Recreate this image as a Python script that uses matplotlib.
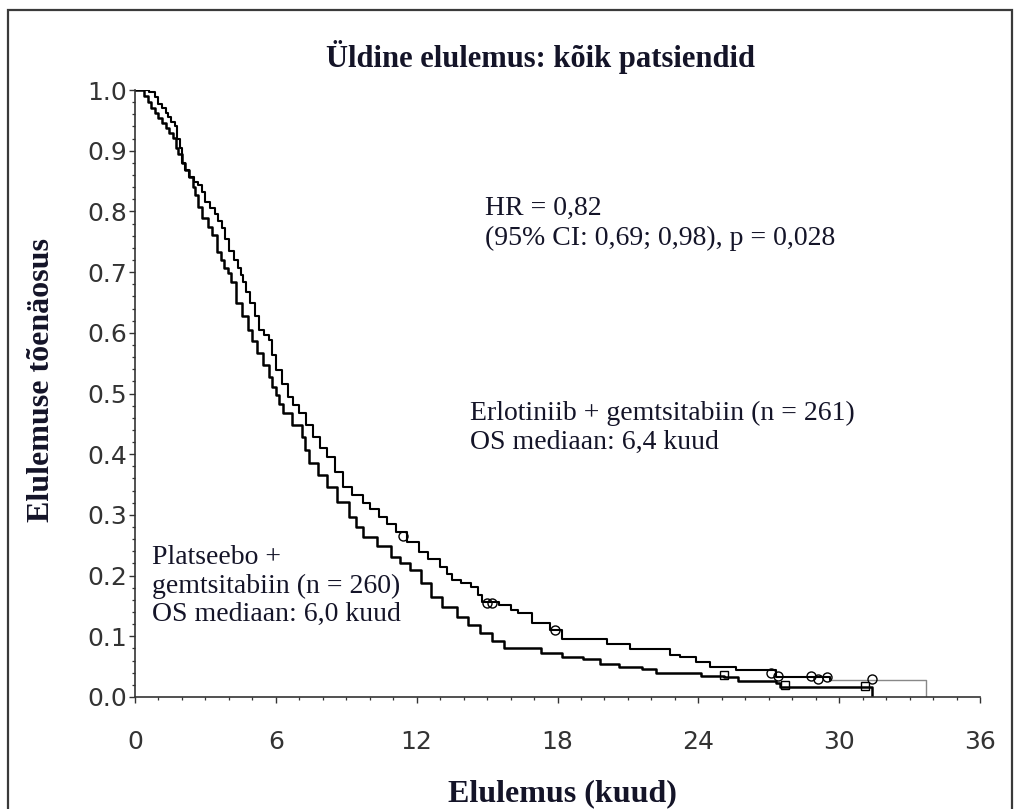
import matplotlib.pyplot as plt
from matplotlib.patches import Rectangle
from matplotlib.ticker import MultipleLocator

# Kaplan-Meier steps (months, survival)
erl_t = [0, 0.6, 0.85, 1.0, 1.15, 1.3, 1.4, 1.55, 1.7, 1.8, 1.9, 2.0, 2.15, 2.3, 2.5,
         2.7, 2.85, 3.0, 3.2, 3.4, 3.55, 3.7, 3.85, 4.0, 4.2, 4.4, 4.5, 4.6, 4.75, 4.9,
         5.1, 5.3, 5.5, 5.7, 5.85, 6.0, 6.25, 6.5, 6.75, 7.0, 7.3, 7.6, 7.9, 8.2, 8.5,
         8.85, 9.25, 9.7, 10.0, 10.4, 10.75, 11.1, 11.6, 12.1, 12.5, 13.0, 13.3, 13.5,
         13.9, 14.3, 14.6, 14.8, 15.5, 16.0, 16.3, 16.9, 17.7, 18.2, 20.1, 21.1, 22.8,
         23.2, 23.9, 24.5, 25.6, 27.3, 29.6, 33.7]
erl_s = [1.0, 0.996, 0.988, 0.977, 0.97, 0.962, 0.955, 0.948, 0.94, 0.92, 0.905, 0.88,
         0.868, 0.856, 0.848, 0.843, 0.832, 0.815, 0.805, 0.795, 0.784, 0.773, 0.755,
         0.735, 0.72, 0.707, 0.695, 0.684, 0.667, 0.649, 0.628, 0.605, 0.596, 0.588,
         0.563, 0.539, 0.516, 0.494, 0.481, 0.468, 0.448, 0.428, 0.411, 0.395, 0.370,
         0.346, 0.333, 0.320, 0.309, 0.297, 0.285, 0.272, 0.255, 0.239, 0.228, 0.214,
         0.202, 0.193, 0.187, 0.181, 0.168, 0.157, 0.152, 0.144, 0.138, 0.122, 0.110,
         0.096, 0.087, 0.079, 0.069, 0.066, 0.058, 0.049, 0.044, 0.033, 0.028, 0.0]

pla_t = [0, 0.4, 0.55, 0.7, 0.85, 1.0, 1.15, 1.3, 1.45, 1.6, 1.75, 1.85, 2.0, 2.15, 2.3,
         2.45, 2.55, 2.7, 2.85, 3.1, 3.3, 3.5, 3.65, 3.8, 3.95, 4.1, 4.3, 4.55, 4.8, 5.0,
         5.2, 5.45, 5.7, 5.85, 6.0, 6.15, 6.3, 6.7, 7.1, 7.25, 7.4, 7.8, 8.2, 8.6, 9.1,
         9.4, 9.7, 10.3, 10.9, 11.3, 11.7, 12.2, 12.6, 13.1, 13.7, 14.2, 14.7, 15.2, 15.7,
         17.3, 18.2, 19.1, 19.8, 20.6, 21.6, 22.2, 24.1, 25.1, 25.7, 27.3, 27.5, 31.4]
pla_s = [1.0, 0.99, 0.98, 0.97, 0.962, 0.954, 0.945, 0.937, 0.929, 0.921, 0.905, 0.895,
         0.88, 0.868, 0.856, 0.84, 0.827, 0.808, 0.789, 0.775, 0.761, 0.733, 0.72, 0.707,
         0.698, 0.684, 0.649, 0.627, 0.605, 0.586, 0.567, 0.547, 0.527, 0.51, 0.497,
         0.482, 0.468, 0.448, 0.428, 0.407, 0.386, 0.366, 0.346, 0.322, 0.297, 0.280,
         0.264, 0.248, 0.231, 0.220, 0.209, 0.187, 0.165, 0.148, 0.132, 0.118, 0.105,
         0.093, 0.081, 0.072, 0.066, 0.062, 0.054, 0.049, 0.046, 0.040, 0.035, 0.033,
         0.026, 0.023, 0.017, 0.0]

# censored observations
erl_cens_t = [11.4, 15.0, 15.2, 17.9, 27.1, 27.4, 28.8, 29.1, 29.5, 31.4]
erl_cens_s = [0.265, 0.155, 0.155, 0.110, 0.040, 0.035, 0.035, 0.030, 0.033, 0.030]
pla_cens_t = [25.1, 27.7, 31.1]
pla_cens_s = [0.036, 0.020, 0.018]

x_ticks = [0, 6, 12, 18, 24, 30, 36]
y_ticks = [0.0, 0.1, 0.2, 0.3, 0.4, 0.5, 0.6, 0.7, 0.8, 0.9, 1.0]

W, H = 1014, 809
fig = plt.figure(figsize=(W / 100, H / 100), dpi=100)
ax = fig.add_axes([135 / W, 1 - 697 / H, (980 - 135) / W, (697 - 90) / H])

serif = 'Liberation Serif'
sans = 'DejaVu Sans'
txt_col = '#141428'

# erlotinib: solid black until last event, thin gray tail
cut = len(erl_t) - 2
ax.step(erl_t[:cut + 1], erl_s[:cut + 1], where='post', color='black', lw=1.5)
ax.step(erl_t[cut:], erl_s[cut:], where='post', color='#888888', lw=1.0)
ax.step(pla_t, pla_s, where='post', color='black', lw=1.8)

ax.plot(erl_cens_t, erl_cens_s, 'o', ms=6.5, mfc='none', mec='black', mew=1.0)
ax.plot(pla_cens_t, pla_cens_s, 's', ms=6, mfc='none', mec='black', mew=1.0)

ax.set_xlim(0, 36)
ax.set_ylim(0, 1.0)
ax.set_xticks(x_ticks)
ax.set_yticks(y_ticks)
ax.set_yticklabels([f'{v:.1f}' for v in y_ticks])
ax.xaxis.set_minor_locator(MultipleLocator(1))
ax.yaxis.set_minor_locator(MultipleLocator(0.02))
for s in ['top', 'right']:
    ax.spines[s].set_visible(False)
for s in ['left', 'bottom']:
    ax.spines[s].set_color('#333333')
    ax.spines[s].set_linewidth(1.2)
ax.tick_params(axis='both', which='major', length=4.5, width=1.0, color='#333333',
               labelcolor='#333333', labelsize=18)
ax.tick_params(axis='both', which='minor', length=2.2, width=0.9, color='#333333')
ax.tick_params(axis='x', which='major', pad=19)
ax.tick_params(axis='y', which='major', pad=1)
for lab in ax.get_xticklabels() + ax.get_yticklabels():
    lab.set_fontfamily(sans)


def ftext(x, y, s, **kw):
    fig.text(x / W, 1 - y / H, s, family=serif, color=txt_col, **kw)


ftext(541, 57, 'Üldine elulemus: kõik patsiendid', fontsize=22, weight='bold',
      ha='center', va='center')
ftext(562, 794, 'Elulemus (kuud)', fontsize=23, weight='bold', ha='center', va='center')
fig.text(42 / W, 1 - 380 / H, 'Elulemuse tõenäosus', family=serif, color=txt_col,
         fontsize=23, weight='bold', rotation=90, ha='center', va='center')

ftext(485, 208, 'HR = 0,82', fontsize=20, va='center')
ftext(485, 238, '(95% CI: 0,69; 0,98), p = 0,028', fontsize=20, va='center')
ftext(470, 413, 'Erlotiniib + gemtsitabiin (n = 261)', fontsize=20, va='center')
ftext(470, 442, 'OS mediaan: 6,4 kuud', fontsize=20, va='center')
ftext(152, 557, 'Platseebo +', fontsize=20, va='center')
ftext(152, 586, 'gemtsitabiin (n = 260)', fontsize=20, va='center')
ftext(152, 614, 'OS mediaan: 6,0 kuud', fontsize=20, va='center')

# outer frame
fig.patches.append(Rectangle((8 / W, -0.02), (1012 - 8) / W, 1 - 10 / H + 0.02,
                             transform=fig.transFigure, fill=False,
                             edgecolor='#3a3a3a', lw=1.6))

fig.savefig('out.png', dpi=100)
